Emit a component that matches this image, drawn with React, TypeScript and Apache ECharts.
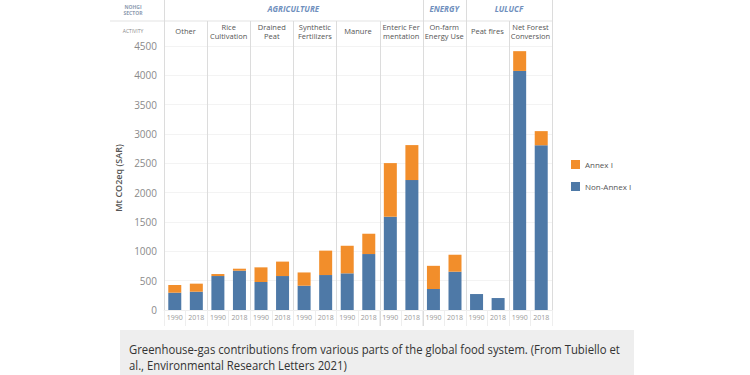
import React, { useEffect, useRef } from "react";
import * as echarts from "echarts";

// ---- data ----
const sectors = ["AGRICULTURE", "ENERGY", "LULUCF"];
const sectorSpans = [6, 1, 2];
const activities = [
  "Other",
  "Rice\nCultivation",
  "Drained\nPeat",
  "Synthetic\nFertilizers",
  "Manure",
  "Enteric Fer\nmentation",
  "On-farm\nEnergy Use",
  "Peat fires",
  "Net Forest\nConversion",
];
const years = ["1990", "2018"];
const nonAnnexI = [295, 312, 579, 670, 477, 579, 414, 596, 625, 954, 1590, 2215, 358, 653, 272, 204, 4075, 2808];
const annexI = [131, 137, 34, 34, 250, 246, 226, 416, 470, 346, 914, 596, 395, 289, 0, 0, 337, 241];
const yMax = 4500;
const yInterval = 500;
const yAxisName = "Mt CO2eq (SAR)";
const seriesNames = ["Annex I", "Non-Annex I"];
const captionLines = [
  "Greenhouse-gas contributions from various parts of the global food system. (From Tubiello et",
  "al., Environmental Research Letters 2021)",
];

const categories = activities.flatMap((a) => years.map((y) => `${a}|${y}`));

const BLUE = "#4e79a7";
const ORANGE = "#f28e2b";
const FONT = "'Open Sans', 'Noto Sans', sans-serif";

export default function App() {
  const ref = useRef<HTMLDivElement>(null);
  useEffect(() => {
    if (!ref.current) return;
    const chart = echarts.init(ref.current, undefined, { renderer: "svg" });
    chart.setOption({
      animation: false,
      backgroundColor: "#ffffff",
      textStyle: { fontFamily: FONT },
      grid: { left: 164, right: 198, top: 46, bottom: 65, containLabel: false },
      legend: {
        data: seriesNames,
        orient: "vertical",
        left: 566,
        top: 155,
        icon: "rect",
        itemWidth: 9,
        itemHeight: 9,
        itemGap: 13,
        textStyle: { fontSize: 8, color: "#555", fontFamily: FONT },
      },
      xAxis: {
        type: "category",
        data: categories,
        axisLine: { show: true, lineStyle: { color: "#eeeeee" } },
        axisTick: { show: true, interval: 0, length: 16, lineStyle: { color: "#eeeeee" } },
        axisLabel: {
          interval: 0,
          fontSize: 7,
          color: "#9a9a9a",
          margin: 4,
          formatter: (v: string) => v.split("|")[1],
        },
        splitLine: { show: false },
      },
      yAxis: {
        type: "value",
        min: 0,
        max: yMax,
        interval: yInterval,
        name: yAxisName,
        nameLocation: "middle",
        nameGap: 30,
        nameTextStyle: { fontSize: 9, color: "#555", fontWeight: 600, fontFamily: FONT },
        axisLine: { show: false },
        axisTick: { show: false },
        axisLabel: { fontSize: 10, color: "#8a8a8a", margin: 7, formatter: (v: number) => String(v) },
        splitLine: { lineStyle: { color: "#f3f3f3" } },
      },
      series: [
        {
          name: seriesNames[1],
          type: "bar",
          stack: "total",
          data: nonAnnexI,
          barWidth: 13,
          itemStyle: { color: BLUE },
        },
        {
          name: seriesNames[0],
          type: "bar",
          stack: "total",
          data: annexI,
          barWidth: 13,
          itemStyle: { color: ORANGE },
        },
      ],
    });

    // header, separators and caption, positioned through the axis scale
    const px = (i: number) => chart.convertToPixel({ xAxisIndex: 0 }, i) as number;
    const step = px(1) - px(0);
    const bound = (k: number) => (k < categories.length ? px(k) - step / 2 : px(categories.length - 1) + step / 2);
    const right = bound(categories.length);
    const headerLine = 21;
    const bottomY = 326;
    const sepColor = "#dcdcdc";

    const sectorBounds: number[] = [0];
    sectorSpans.forEach((s) => sectorBounds.push(sectorBounds[sectorBounds.length - 1] + s * 2));

    const elems: any[] = [];
    elems.push({
      type: "line",
      shape: { x1: 110, y1: headerLine, x2: right, y2: headerLine },
      style: { stroke: "#e3e3e3", lineWidth: 1 },
    });
    for (let k = 0; k <= categories.length; k += 2) {
      const x = Math.round(bound(k)) + 0.5;
      const isSector = sectorBounds.includes(k);
      elems.push({
        type: "line",
        shape: { x1: x, y1: isSector ? 0 : headerLine, x2: x, y2: bottomY },
        style: { stroke: sepColor, lineWidth: 1 },
      });
    }
    sectors.forEach((s, i) => {
      const x = (bound(sectorBounds[i]) + bound(sectorBounds[i + 1])) / 2;
      elems.push({
        type: "text",
        x,
        y: 8,
        style: {
          text: s,
          align: "center",
          verticalAlign: "middle",
          fontSize: 8,
          fontWeight: "bold",
          fontStyle: "italic",
          fill: "#6f8fbd",
          fontFamily: FONT,
        },
      });
    });
    activities.forEach((a, i) => {
      const x = (bound(i * 2) + bound(i * 2 + 2)) / 2;
      elems.push({
        type: "text",
        x,
        y: 31,
        style: {
          text: a,
          align: "center",
          verticalAlign: "middle",
          fontSize: 7.5,
          lineHeight: 9,
          fill: "#555",
          fontFamily: FONT,
        },
      });
    });
    elems.push({
      type: "text",
      x: 133,
      y: 10,
      style: {
        text: "NOHGI\nSECTOR",
        align: "center",
        verticalAlign: "middle",
        fontSize: 5,
        lineHeight: 6,
        fontWeight: "bold",
        fill: "#8d9bb0",
        fontFamily: FONT,
      },
    });
    elems.push({
      type: "text",
      x: 133,
      y: 31,
      style: {
        text: "ACTIVITY",
        align: "center",
        verticalAlign: "middle",
        fontSize: 5,
        fill: "#888",
        fontFamily: FONT,
      },
    });
    elems.push({
      type: "rect",
      shape: { x: 120, y: 330, width: 514, height: 50 },
      style: { fill: "#eeeeee" },
      z: 0,
    });
    captionLines.forEach((t, i) => {
      elems.push({
        type: "text",
        x: 129,
        y: 349 + i * 16,
        scaleX: 0.87,
        style: {
          text: t,
          align: "left",
          verticalAlign: "middle",
          fontSize: 13,
          fill: "#333",
          fontFamily: FONT,
        },
        z: 1,
      });
    });
    chart.setOption({ graphic: { elements: elems } });

    return () => chart.dispose();
  }, []);

  return (
    <div
      ref={ref}
      style={{ position: "fixed", left: 0, top: 0, width: 750, height: 375, background: "#fff" }}
    />
  );
}
